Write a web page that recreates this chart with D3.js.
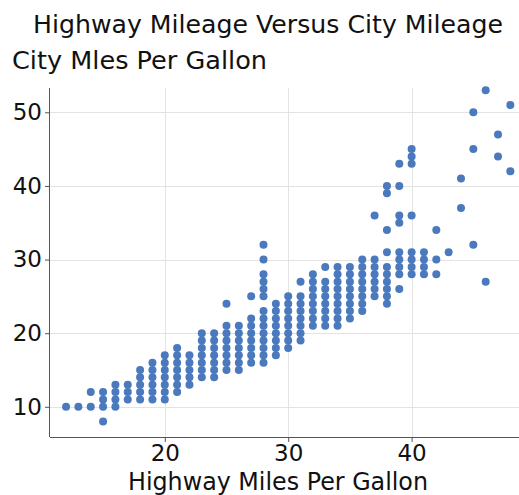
<!DOCTYPE html>
<html>
<head>
<meta charset="utf-8">
<script src="https://cdn.jsdelivr.net/npm/d3@7/dist/d3.min.js"></script>
<style>
  html, body { margin: 0; padding: 0; background: #fff; }
  text { font-family: "DejaVu Sans", Verdana, sans-serif; fill: #111; }
</style>
</head>
<body>
<svg id="chart" width="519" height="495"></svg>
<script>
// Highway mpg values (x) and city mpg values observed at each highway mpg
const highwayMpg = [12, 13, 14, 15, 16, 17, 18, 19, 20, 21, 22, 23, 24, 25, 26, 27, 28, 29, 30,
  31, 32, 33, 34, 35, 36, 37, 38, 39, 40, 41, 42, 43, 44, 45, 46, 47, 48];
const cityMpgByHighway = [
  [10],
  [10],
  [10, 12],
  [8, 10, 11, 12],
  [10, 11, 12, 13],
  [11, 12, 13],
  [11, 12, 13, 14, 15],
  [11, 12, 13, 14, 15, 16],
  [11, 12, 13, 14, 15, 16, 17],
  [12, 13, 14, 15, 16, 17, 18],
  [13, 14, 15, 16, 17],
  [14, 15, 16, 17, 18, 19, 20],
  [14, 15, 16, 17, 18, 19, 20],
  [15, 16, 17, 18, 19, 20, 21, 24],
  [15, 16, 17, 18, 19, 20, 21],
  [16, 17, 18, 19, 20, 21, 22, 25],
  [16, 17, 18, 19, 20, 21, 22, 23, 25, 26, 27, 28, 30, 32],
  [17, 18, 19, 20, 21, 22, 23, 24],
  [18, 19, 20, 21, 22, 23, 24, 25],
  [19, 20, 21, 22, 23, 24, 25, 27],
  [21, 22, 23, 24, 25, 26, 27, 28],
  [21, 22, 23, 24, 25, 26, 27, 29],
  [21, 22, 23, 24, 25, 26, 27, 28, 29],
  [22, 23, 24, 25, 26, 27, 28, 29],
  [23, 24, 25, 26, 27, 28, 29, 30],
  [25, 26, 27, 28, 29, 30, 36],
  [24, 25, 26, 27, 28, 29, 31, 34, 39, 40],
  [26, 28, 29, 30, 31, 35, 36, 40, 43],
  [28, 29, 30, 31, 36, 43, 44, 45],
  [28, 29, 30, 31],
  [28, 30, 34],
  [31],
  [37, 41],
  [32, 45, 50],
  [27, 53],
  [44, 47],
  [42, 51]
];
const xTicks = [20, 30, 40];
const yTicks = [10, 20, 30, 40, 50];
const chartTitle = "Highway Mileage Versus City Mileage";
const xTitle = "Highway Miles Per Gallon";
const yTitle = "City Mles Per Gallon";

const points = [];
highwayMpg.forEach((h, i) => cityMpgByHighway[i].forEach(c => points.push({ hwy: h, cty: c })));

const svg = d3.select("#chart");
const pLeft = 50, pRight = 519, pTop = 88, pBottom = 437;

const x = d3.scaleLinear().domain([10.7, 48.7]).range([pLeft, pRight]);
const y = d3.scaleLinear().domain([5.9, 53.3]).range([pBottom, pTop]);

// gridlines
svg.append("g").selectAll("line").data(yTicks).join("line")
  .attr("x1", pLeft).attr("x2", pRight)
  .attr("y1", d => Math.round(y(d)) + 0.5).attr("y2", d => Math.round(y(d)) + 0.5)
  .attr("stroke", "#e3e3e3").attr("stroke-width", 1);
svg.append("g").selectAll("line").data(xTicks).join("line")
  .attr("y1", pTop).attr("y2", pBottom)
  .attr("x1", d => Math.round(x(d)) + 0.5).attr("x2", d => Math.round(x(d)) + 0.5)
  .attr("stroke", "#e3e3e3").attr("stroke-width", 1);

// axes
const xAxis = d3.axisBottom(x).tickValues(xTicks).tickSize(5).tickPadding(3).tickSizeOuter(0);
const yAxis = d3.axisLeft(y).tickValues(yTicks).tickSize(5).tickPadding(3).tickSizeOuter(0);

const gx = svg.append("g").attr("transform", `translate(0,${pBottom})`).call(xAxis);
const gy = svg.append("g").attr("transform", `translate(${pLeft},0)`).call(yAxis);
[gx, gy].forEach(g => {
  g.select(".domain").attr("stroke", "#555");
  g.selectAll(".tick line").attr("stroke", "#555");
  g.selectAll(".tick text").style("font-family", '"DejaVu Sans", Verdana, sans-serif')
    .style("font-size", "23px").attr("fill", "#111");
});
gx.select(".domain").attr("d", `M${pLeft},0.5H${pRight}`);
gy.select(".domain").attr("d", `M-0.5,${pTop}V${pBottom}`);

// points
svg.append("g").selectAll("circle").data(points).join("circle")
  .attr("cx", d => x(d.hwy)).attr("cy", d => y(d.cty))
  .attr("r", 4).attr("fill", "#4a7abd");

// titles
svg.append("text").attr("x", 268).attr("y", 33).attr("text-anchor", "middle")
  .attr("textLength", 470).attr("lengthAdjust", "spacingAndGlyphs")
  .style("font-size", "25px").text(chartTitle);
svg.append("text").attr("x", 12).attr("y", 69)
  .attr("textLength", 255).attr("lengthAdjust", "spacingAndGlyphs")
  .style("font-size", "25px").text(yTitle);
svg.append("text").attr("x", 278).attr("y", 490).attr("text-anchor", "middle")
  .attr("textLength", 300).attr("lengthAdjust", "spacingAndGlyphs")
  .style("font-size", "24px").text(xTitle);
</script>
</body>
</html>
